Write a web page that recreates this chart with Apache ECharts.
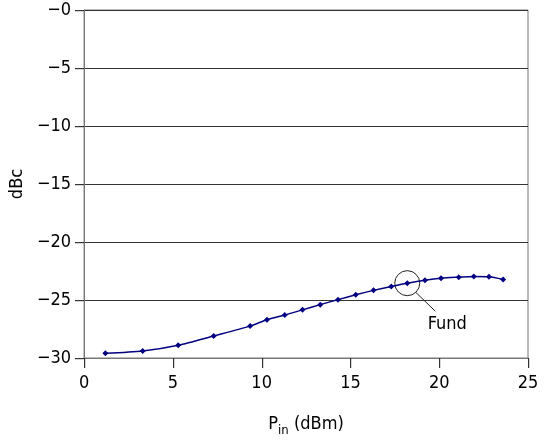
<!DOCTYPE html>
<html><head><meta charset="utf-8">
<script src="https://cdn.jsdelivr.net/npm/echarts@6/dist/echarts.min.js"></script>
<style>html,body{margin:0;padding:0;background:#fff}#c{width:548px;height:442px}</style>
</head><body><div id="c"></div>
<script>
const pinDbm = [1.2, 3.3, 5.3, 7.3, 9.35, 10.3, 11.3, 12.3, 13.3, 14.3, 15.3, 16.3, 17.3, 18.2, 19.2, 20.1, 21.1, 21.95, 22.8, 23.6];
const dbc = [-29.6, -29.4, -28.9, -28.1, -27.25, -26.7, -26.3, -25.85, -25.4, -24.97, -24.55, -24.17, -23.83, -23.55, -23.29, -23.12, -23.03, -22.97, -23.0, -23.23];
const xTicks = [0, 5, 10, 15, 20, 25];
const yTicks = [-30, -25, -20, -15, -10, -5, 0];
const annotation = {label: 'Fund', x: 18.2, y: -23.55};

const FONT = '"DejaVu Sans Condensed","Liberation Sans Narrow",sans-serif';
const chart = echarts.init(document.getElementById('c'));
chart.setOption({
  animation: false,
  grid: {left: 83, right: 20, top: 10, bottom: 81, show: true, borderColor: '#777', borderWidth: 1},
  xAxis: {
    type: 'value', min: xTicks[0], max: xTicks[xTicks.length-1], interval: 5,
    name: '{p|P}{s|in}{p| (dBm)}', nameLocation: 'middle', nameGap: 54,
    nameTextStyle: {rich: {p: {fontSize: 18, fontFamily: FONT, color: '#000'}, s: {fontSize: 13, fontFamily: FONT, color: '#000', verticalAlign: 'bottom', padding: [12,0,0,0]}}},
    axisLine: {show: true, onZero: false, lineStyle: {color: '#777'}},
    axisTick: {show: false},
    axisLabel: {fontSize: 18, fontFamily: FONT, color: '#000', margin: 16},
    splitLine: {show: false}
  },
  yAxis: {
    type: 'value', min: yTicks[0], max: yTicks[yTicks.length-1], interval: 5,
    name: 'dBc', nameLocation: 'middle', nameGap: 58,
    nameTextStyle: {fontSize: 18, fontFamily: FONT, color: '#000'},
    axisLine: {show: true, onZero: false, lineStyle: {color: '#777'}},
    axisTick: {show: false},
    axisLabel: {fontSize: 18, fontFamily: FONT, color: '#000', margin: 13,
      formatter: v => '\u2212' + Math.abs(v)},
    splitLine: {show: true, lineStyle: {color: '#333', width: 1}}
  },
  series: [{
    type: 'line', data: pinDbm.map((x, i) => [x, dbc[i]]),
    smooth: 0.25, symbol: 'diamond', symbolSize: 6, showSymbol: true,
    lineStyle: {color: '#000080', width: 1.5},
    itemStyle: {color: '#000080'}
  }]
});
const px = v => chart.convertToPixel({gridIndex: 0}, v);
const y0 = yTicks[0], x0 = xTicks[0];
const tickEls = [];
xTicks.forEach(t => {
  const p = px([t, y0]);
  tickEls.push({type: 'rect', silent: true, z: 100, shape: {x: Math.round(p[0]), y: Math.round(p[1]), width: 1.2, height: 10}, style: {fill: '#333'}});
});
yTicks.forEach(t => {
  const p = px([x0, t]);
  tickEls.push({type: 'rect', silent: true, z: 100, shape: {x: Math.round(p[0]) - 9, y: Math.round(p[1]), width: 9, height: 1.2}, style: {fill: '#333'}});
});
const c = px([annotation.x, annotation.y]);
const r = 12.5;
chart.setOption({graphic: {elements: tickEls.concat([
  {type: 'circle', shape: {cx: c[0], cy: c[1], r: r}, style: {fill: 'none', stroke: '#222', lineWidth: 1}},
  {type: 'line', shape: {x1: c[0] + r*0.7, y1: c[1] + r*0.75, x2: c[0] + 28, y2: c[1] + 28}, style: {stroke: '#222', lineWidth: 1}},
  {type: 'text', x: c[0] + 40, y: c[1] + 41, style: {text: annotation.label, font: '18px ' + FONT, fill: '#000', align: 'center', verticalAlign: 'middle'}}
])}});
</script></body></html>
